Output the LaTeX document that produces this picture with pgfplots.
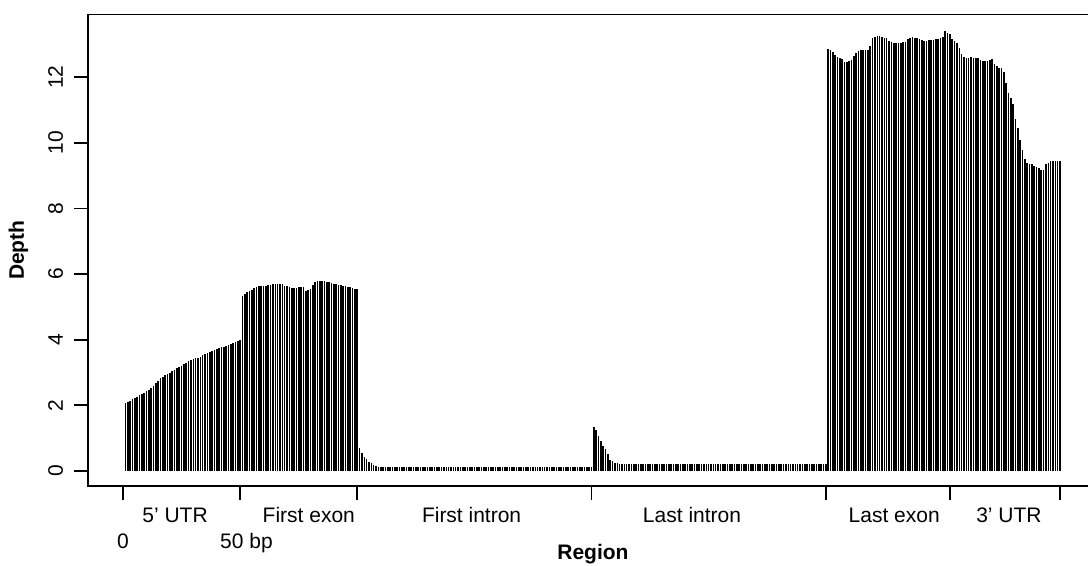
\documentclass[border=0pt]{standalone}
\usepackage{fontspec}
\setmainfont{Liberation Sans}
\usepackage{pgfplots}
\pgfplotsset{compat=1.18}
\newcommand\rf{\fontsize{21bp}{25bp}\selectfont}
\begin{document}
\begin{tikzpicture}
\begin{axis}[
  scale only axis,
  width=1009.4bp, height=471.5bp,
  xmin=-14.96, xmax=415.96,
  ymin=-0.457, ymax=13.905,
  axis line style={line width=1.7bp, black},
  tick style={line width=1.7bp, black},
  tick align=outside,
  major tick length=14bp,
  xtick={0,50,100,200,300,353,400},
  xticklabels={},
  xtick pos=bottom,
  ytick={0,2,4,6,8,10,12},
  yticklabels={},
  ytick pos=left,
  clip=false,
]
\addplot[ycomb, black, line width=1.6bp, mark=none] coordinates {
(1,2.07)(2,2.11)(3,2.14)(4,2.18)(5,2.23)(6,2.26)(7,2.31)(8,2.35)(9,2.39)(10,2.43)
(11,2.48)(12,2.53)(13,2.59)(14,2.67)(15,2.75)(16,2.82)(17,2.87)(18,2.91)(19,2.96)(20,3.00)
(21,3.05)(22,3.09)(23,3.13)(24,3.16)(25,3.20)(26,3.25)(27,3.29)(28,3.34)(29,3.38)(30,3.41)
(31,3.43)(32,3.45)(33,3.47)(34,3.53)(35,3.57)(36,3.60)(37,3.62)(38,3.65)(39,3.69)(40,3.72)
(41,3.75)(42,3.77)(43,3.79)(44,3.81)(45,3.85)(46,3.88)(47,3.91)(48,3.94)(49,3.97)(50,3.99)
(51,5.34)(52,5.39)(53,5.44)(54,5.49)(55,5.52)(56,5.56)(57,5.60)(58,5.62)(59,5.63)(60,5.63)
(61,5.64)(62,5.67)(63,5.68)(64,5.69)(65,5.71)(66,5.70)(67,5.69)(68,5.69)(69,5.63)(70,5.62)
(71,5.60)(72,5.56)(73,5.58)(74,5.58)(75,5.60)(76,5.60)(77,5.61)(78,5.49)(79,5.51)(80,5.53)
(81,5.67)(82,5.75)(83,5.79)(84,5.80)(85,5.80)(86,5.78)(87,5.76)(88,5.75)(89,5.73)(90,5.71)
(91,5.70)(92,5.68)(93,5.67)(94,5.64)(95,5.63)(96,5.60)(97,5.60)(98,5.57)(99,5.55)(100,5.53)
(101,0.69)(102,0.56)(103,0.44)(104,0.36)(105,0.27)(106,0.23)(107,0.19)(108,0.15)(109,0.13)(110,0.12)
(111,0.12)(112,0.12)(113,0.12)(114,0.12)(115,0.12)(116,0.12)(117,0.12)(118,0.12)(119,0.12)(120,0.12)
(121,0.12)(122,0.12)(123,0.12)(124,0.12)(125,0.12)(126,0.12)(127,0.12)(128,0.12)(129,0.12)(130,0.12)
(131,0.12)(132,0.12)(133,0.12)(134,0.12)(135,0.12)(136,0.12)(137,0.12)(138,0.12)(139,0.12)(140,0.12)
(141,0.12)(142,0.12)(143,0.12)(144,0.12)(145,0.12)(146,0.12)(147,0.12)(148,0.12)(149,0.12)(150,0.12)
(151,0.12)(152,0.12)(153,0.12)(154,0.12)(155,0.12)(156,0.12)(157,0.12)(158,0.12)(159,0.12)(160,0.12)
(161,0.11)(162,0.11)(163,0.11)(164,0.11)(165,0.11)(166,0.11)(167,0.11)(168,0.11)(169,0.11)(170,0.11)
(171,0.11)(172,0.11)(173,0.11)(174,0.11)(175,0.11)(176,0.11)(177,0.11)(178,0.11)(179,0.11)(180,0.11)
(181,0.11)(182,0.11)(183,0.11)(184,0.11)(185,0.11)(186,0.11)(187,0.11)(188,0.11)(189,0.11)(190,0.11)
(191,0.11)(192,0.11)(193,0.11)(194,0.11)(195,0.11)(196,0.11)(197,0.11)(198,0.11)(199,0.11)(200,0.11)
(201,1.33)(202,1.25)(203,1.07)(204,0.92)(205,0.77)(206,0.67)(207,0.52)(208,0.34)(209,0.29)(210,0.25)
(211,0.23)(212,0.22)(213,0.21)(214,0.21)(215,0.21)(216,0.21)(217,0.21)(218,0.21)(219,0.21)(220,0.21)
(221,0.21)(222,0.21)(223,0.21)(224,0.21)(225,0.21)(226,0.21)(227,0.21)(228,0.21)(229,0.21)(230,0.21)
(231,0.21)(232,0.21)(233,0.21)(234,0.21)(235,0.21)(236,0.21)(237,0.21)(238,0.21)(239,0.21)(240,0.21)
(241,0.21)(242,0.21)(243,0.21)(244,0.21)(245,0.21)(246,0.21)(247,0.21)(248,0.21)(249,0.21)(250,0.21)
(251,0.21)(252,0.21)(253,0.21)(254,0.21)(255,0.21)(256,0.21)(257,0.21)(258,0.21)(259,0.21)(260,0.21)
(261,0.21)(262,0.21)(263,0.21)(264,0.21)(265,0.21)(266,0.21)(267,0.21)(268,0.21)(269,0.21)(270,0.21)
(271,0.21)(272,0.21)(273,0.21)(274,0.21)(275,0.21)(276,0.21)(277,0.21)(278,0.21)(279,0.21)(280,0.21)
(281,0.21)(282,0.21)(283,0.21)(284,0.21)(285,0.21)(286,0.21)(287,0.21)(288,0.21)(289,0.21)(290,0.21)
(291,0.21)(292,0.21)(293,0.21)(294,0.21)(295,0.21)(296,0.21)(297,0.21)(298,0.21)(299,0.21)(300,0.21)
(301,12.84)(302,12.83)(303,12.77)(304,12.66)(305,12.62)(306,12.58)(307,12.54)(308,12.46)(309,12.46)(310,12.48)
(311,12.51)(312,12.63)(313,12.74)(314,12.80)(315,12.82)(316,12.82)(317,12.82)(318,12.83)(319,12.95)(320,13.18)
(321,13.21)(322,13.24)(323,13.25)(324,13.22)(325,13.20)(326,13.18)(327,13.11)(328,13.07)(329,13.05)(330,13.03)
(331,13.03)(332,13.05)(333,13.07)(334,13.08)(335,13.15)(336,13.18)(337,13.21)(338,13.19)(339,13.18)(340,13.16)
(341,13.13)(342,13.11)(343,13.10)(344,13.12)(345,13.14)(346,13.14)(347,13.15)(348,13.15)(349,13.18)(350,13.22)
(351,13.39)(352,13.35)(353,13.32)(354,13.17)(355,13.11)(356,13.03)(357,12.89)(358,12.70)(359,12.62)(360,12.59)
(361,12.58)(362,12.60)(363,12.59)(364,12.59)(365,12.58)(366,12.52)(367,12.49)(368,12.49)(369,12.49)(370,12.51)
(371,12.56)(372,12.41)(373,12.33)(374,12.28)(375,12.27)(376,12.14)(377,11.83)(378,11.52)(379,11.35)(380,11.17)
(381,10.71)(382,10.44)(383,10.08)(384,9.79)(385,9.50)(386,9.37)(387,9.35)(388,9.35)(389,9.30)(390,9.26)
(391,9.22)(392,9.17)(393,9.17)(394,9.34)(395,9.38)(396,9.43)(397,9.43)(398,9.43)(399,9.43)(400,9.43)
};
\path[font=\rf]
  ([xshift=-25bp]axis cs:-14.96,0) node[anchor=base, rotate=90, inner sep=0pt] {0}
  ([xshift=-25bp]axis cs:-14.96,2) node[anchor=base, rotate=90, inner sep=0pt] {2}
  ([xshift=-25bp]axis cs:-14.96,4) node[anchor=base, rotate=90, inner sep=0pt] {4}
  ([xshift=-25bp]axis cs:-14.96,6) node[anchor=base, rotate=90, inner sep=0pt] {6}
  ([xshift=-25bp]axis cs:-14.96,8) node[anchor=base, rotate=90, inner sep=0pt] {8}
  ([xshift=-25bp]axis cs:-14.96,10) node[anchor=base, rotate=90, inner sep=0pt] {10}
  ([xshift=-25bp]axis cs:-14.96,12) node[anchor=base, rotate=90, inner sep=0pt] {12}
  (axis cs:22.2,-0.457) node[anchor=base, yshift=-36bp] {5' UTR}
  (axis cs:79.3,-0.457) node[anchor=base, yshift=-36bp] {First exon}
  (axis cs:148.8,-0.457) node[anchor=base, yshift=-36bp] {First intron}
  (axis cs:242.9,-0.457) node[anchor=base, yshift=-36bp] {Last intron}
  (axis cs:329.2,-0.457) node[anchor=base, yshift=-36bp] {Last exon}
  (axis cs:378.2,-0.457) node[anchor=base, yshift=-36bp] {3' UTR}
  (axis cs:0,-0.457) node[anchor=base, yshift=-62bp] {0}
  (axis cs:52.7,-0.457) node[anchor=base, yshift=-62bp] {50 bp}
  (axis cs:200.6,-0.457) node[anchor=base, yshift=-73.6bp, font=\rf\bfseries] {Region}
  ([xshift=-64bp]rel axis cs:0,0.5) node[anchor=base, rotate=90, inner sep=0pt, font=\rf\bfseries] {Depth};
\end{axis}
\pgfresetboundingbox
\useasboundingbox (-88bp,-80bp) rectangle (1000bp,486bp);
\end{tikzpicture}
\end{document}
